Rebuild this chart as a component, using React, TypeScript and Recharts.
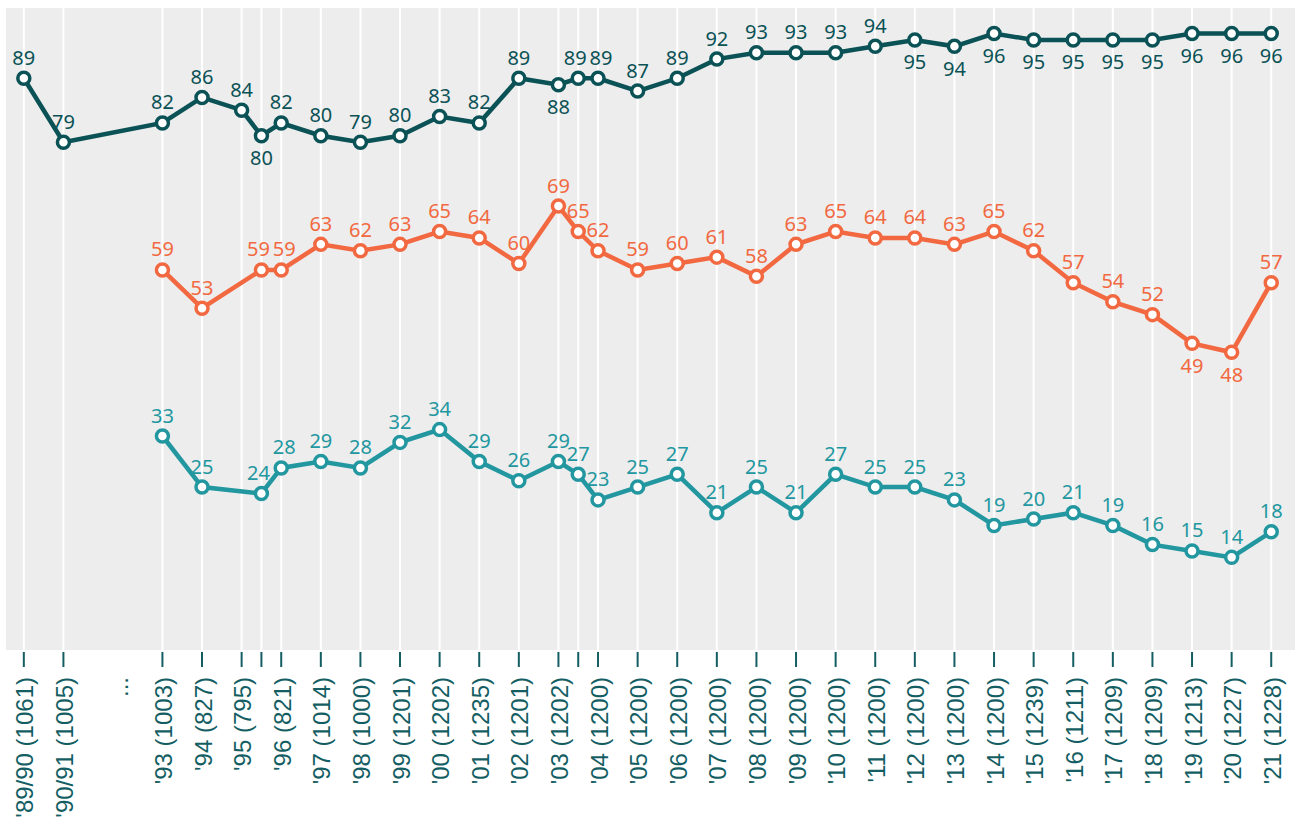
import React from 'react';
import { ComposedChart, Line, XAxis, YAxis, ReferenceLine, ReferenceArea, LabelList } from 'recharts';

// x positions: one unit per year, with a gap after '90/91 and half-steps for the extra waves
const xPos = [0, 1, 3.5, 4.5, 5.5, 6, 6.5, 7.5, 8.5, 9.5, 10.5, 11.5, 12.5, 13.5, 14, 14.5, 15.5, 16.5, 17.5, 18.5, 19.5, 20.5, 21.5, 22.5, 23.5, 24.5, 25.5, 26.5, 27.5, 28.5, 29.5, 30.5, 31.5];
const tickLabels = ["'89/90 (1061)", "'90/91 (1005)", "'93 (1003)", "'94 (827)", "'95 (795)", '', "'96 (821)", "'97 (1014)", "'98 (1000)", "'99 (1201)", "'00 (1202)", "'01 (1235)", "'02 (1201)", "'03 (1202)", '', "'04 (1200)", "'05 (1200)", "'06 (1200)", "'07 (1200)", "'08 (1200)", "'09 (1200)", "'10 (1200)", "'11 (1200)", "'12 (1200)", "'13 (1200)", "'14 (1200)", "'15 (1239)", "'16 (1211)", "'17 (1209)", "'18 (1209)", "'19 (1213)", "'20 (1227)", "'21 (1228)"];
const gapX = 2.4;

const dark = [89, 79, 82, 86, 84, 80, 82, 80, 79, 80, 83, 82, 89, 88, 89, 89, 87, 89, 92, 93, 93, 93, 94, 95, 94, 96, 95, 95, 95, 95, 96, 96, 96];
const orange = [null, null, 59, 53, null, 59, 59, 63, 62, 63, 65, 64, 60, 69, 65, 62, 59, 60, 61, 58, 63, 65, 64, 64, 63, 65, 62, 57, 54, 52, 47.5, 46.1, 57];
const orangeLabels = [null, null, 59, 53, null, 59, 59, 63, 62, 63, 65, 64, 60, 69, 65, 62, 59, 60, 61, 58, 63, 65, 64, 64, 63, 65, 62, 57, 54, 52, 49, 48, 57];
const teal = [null, null, 33, 25, null, 24, 28, 29, 28, 32, 34, 29, 26, 29, 27, 23, 25, 27, 21, 25, 21, 27, 25, 25, 23, 19, 20, 21, 19, 16, 15, 14, 18];

const darkBelow = [5, 13, 23, 24, 25, 26, 27, 28, 29, 30, 31, 32];
const orangeBelow = [30, 31];
// small sideways nudges where two labels sit close together
const darkShift: Record<number, number> = { 14: -3, 15: 3 };
const orangeShift: Record<number, number> = { 5: -3, 6: 3 };
const tealShift: Record<number, number> = { 5: -3, 6: 3 };

const C_DARK = '#0b5256';
const C_ORANGE = '#f26941';
const C_TEAL = '#2297a0';
const C_AXIS = '#145e63';

const data = xPos.map((x, i) => ({ x, dark: dark[i], orange: orange[i], teal: teal[i] }));
const ticks = [...xPos.slice(0, 2), gapX, ...xPos.slice(2)];

const makeLabel = (color: string, below: number[], shift: Record<number, number>, texts?: (number | null)[]) => (props: any) => {
  const { x, y, index, value } = props;
  if (value == null) return null;
  const txt = texts ? texts[index] : value;
  const dy = below.includes(index) ? 22 : -21;
  return (
    <text x={x + (shift[index] || 0)} y={y + dy} fill={color} fontSize={20} fontFamily="'Noto Sans', sans-serif" textAnchor="middle" dominantBaseline="central">
      {txt}
    </text>
  );
};

const AxisTick = (props: any) => {
  const { x, y, payload } = props;
  const v = payload.value;
  const idx = xPos.indexOf(v);
  const label = idx >= 0 ? tickLabels[idx] : '...';
  return (
    <g transform={`translate(${x},${y})`}>
      {idx >= 0 && <line x1={0} y1={2} x2={0} y2={17} stroke={C_AXIS} strokeWidth={2} />}
      <text transform="rotate(-90)" x={-27} y={1} fill={C_AXIS} fontSize={24} fontFamily="'Liberation Sans', Arial, sans-serif" textAnchor="end" dominantBaseline="central">
        {label}
      </text>
    </g>
  );
};

const dot = (color: string) => ({ r: 6, fill: '#fff', stroke: color, strokeWidth: 3.5 });

export default function App() {
  return (
    <div style={{ position: 'absolute', left: 0, top: 0, width: 1295, height: 818, background: '#fff' }}>
      <ComposedChart width={1295} height={818} data={data} margin={{ top: 8, right: 0, left: 6, bottom: 0 }}>
        <XAxis dataKey="x" type="number" domain={[-0.45, 32.1]} ticks={ticks} interval={0} height={168} axisLine={false} tickLine={false} tickSize={0} tickMargin={0} tick={<AxisTick />} allowDataOverflow />
        <YAxis type="number" domain={[-0.5, 100]} hide allowDataOverflow />
        <ReferenceArea x1={-0.45} x2={32.1} y1={-0.5} y2={100} fill="#ededed" fillOpacity={1} stroke="none" ifOverflow="visible" />
        {xPos.map((x) => (
          <ReferenceLine key={x} x={x} stroke="#ffffff" strokeWidth={2} />
        ))}
        <Line dataKey="dark" stroke={C_DARK} strokeWidth={4.5} dot={dot(C_DARK)} connectNulls isAnimationActive={false}>
          <LabelList dataKey="dark" content={makeLabel(C_DARK, darkBelow, darkShift)} />
        </Line>
        <Line dataKey="orange" stroke={C_ORANGE} strokeWidth={4.5} dot={dot(C_ORANGE)} connectNulls isAnimationActive={false}>
          <LabelList dataKey="orange" content={makeLabel(C_ORANGE, orangeBelow, orangeShift, orangeLabels)} />
        </Line>
        <Line dataKey="teal" stroke={C_TEAL} strokeWidth={4.5} dot={dot(C_TEAL)} connectNulls isAnimationActive={false}>
          <LabelList dataKey="teal" content={makeLabel(C_TEAL, [], tealShift)} />
        </Line>
      </ComposedChart>
    </div>
  );
}
